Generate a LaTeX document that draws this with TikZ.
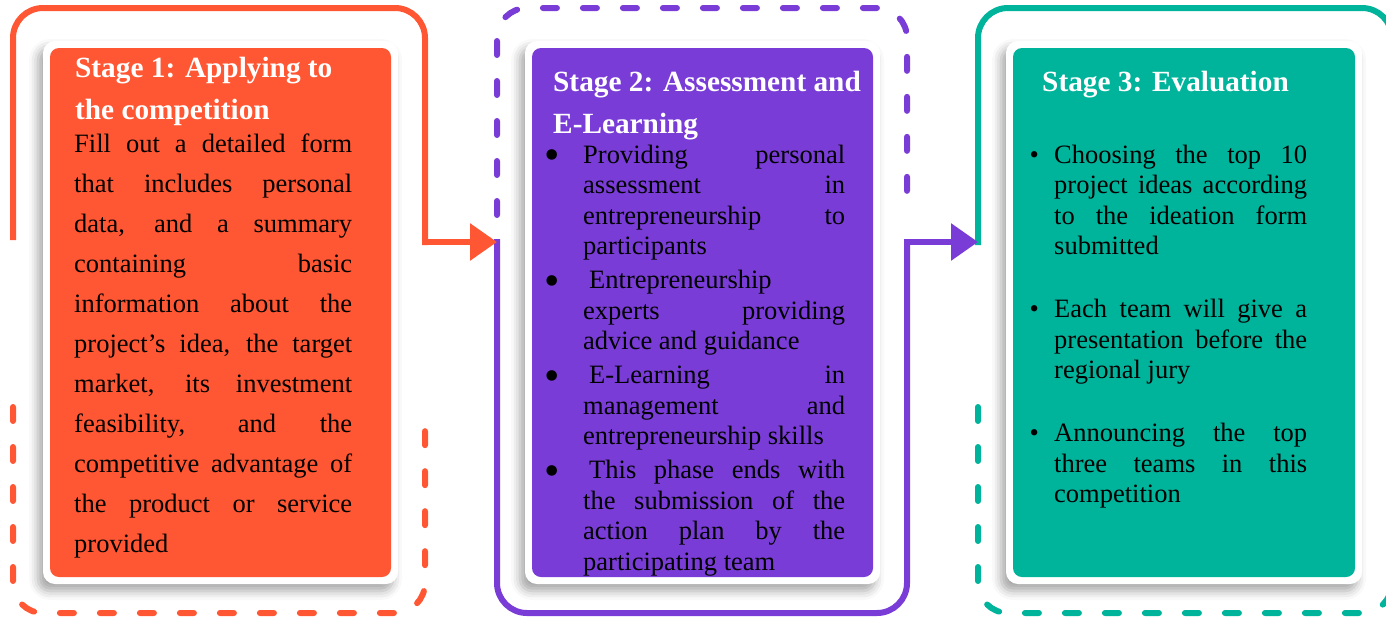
\documentclass[tikz,border=0pt]{standalone}
\usepackage{fontspec}
\setmainfont{Liberation Serif}
\usetikzlibrary{arrows.meta, shadows.blur}

\definecolor{stageorange}{HTML}{FF5733}
\definecolor{stagepurple}{HTML}{7A3CD7}
\definecolor{stageteal}{HTML}{00B39B}

\tolerance=10000
\hyphenpenalty=10000
\newcommand{\roundbullet}{\noindent\llap{\makebox[38.7pt][l]{\smash{\raisebox{-6.5pt}{\fontsize{44}{44}\selectfont\textbullet}}}}}
\newcommand{\smallbullet}{\noindent\llap{\makebox[24.5pt][l]{\textbullet}}}

\begin{document}
\begin{tikzpicture}[
  x=1pt, y=-1pt,
  frame/.style={line width=6pt},
  framedash/.style={line width=6pt, dash pattern=on 14pt off 26pt, line cap=round},
  card/.style={fill=white, rounded corners=12pt, inner sep=0pt, outer sep=0pt, minimum width=355pt, minimum height=543pt,
    blur shadow={shadow xshift=-5pt, shadow yshift=-7pt, shadow blur radius=9pt, shadow opacity=35}},
  panel/.style={rounded corners=9pt, inner sep=0pt, outer sep=0pt, minimum width=341pt, minimum height=529pt},
  title/.style={anchor=north west, inner sep=0pt, align=left, text=white, font=\fontsize{29.3}{42}\selectfont\bfseries},
  body/.style={anchor=north west, inner sep=0pt, align=justify, font=\fontsize{26.5}{30.5}\selectfont},
  flow/.style={line width=6pt, -{Triangle[length=27pt, width=36pt]}}
]
\useasboundingbox (0,0) rectangle (1386,619);

\coordinate (s1e) at (425,242);
\coordinate (s2w) at (497,242);
\coordinate (s2e) at (907,242);
\coordinate (s3w) at (978,242);

\draw[frame, stageorange, rounded corners=30pt] (13,240) -- (13,8) -- (425,8) -- (425,245);
\draw[framedash, stageorange, rounded corners=30pt] (13,407) -- (13,613) -- (425,613) -- (425,407);
\draw[framedash, stagepurple, rounded corners=30pt] (497,215) -- (497,8) -- (907,8) -- (907,215);
\draw[frame, stagepurple, rounded corners=30pt] (497,239) -- (497,613) -- (907,613) -- (907,239);
\draw[frame, stageteal, rounded corners=30pt] (978,245) -- (978,8) -- (1392,8) -- (1392,240);
\draw[framedash, stageteal, rounded corners=30pt] (978,407) -- (978,613) -- (1392,613) -- (1392,407);

\draw[flow, stageorange] ([xshift=-3pt]s1e) -- (s2w);
\draw[flow, stagepurple] ([xshift=-3pt]s2e) -- (s3w);

\node[card] (s1card) at (220.5,312.5) {};
\node[panel, fill=stageorange] (s1panel) at (220.5,312.5) {};
\node[card] (s2card) at (702.5,312.5) {};
\node[panel, fill=stagepurple] (s2panel) at (702.5,312.5) {};
\node[card, minimum width=356pt] (s3card) at (1184,312.5) {};
\node[panel, fill=stageteal, minimum width=342pt] (s3panel) at (1184,312.5) {};

\node[title] (s1title) at (75,47.6) {\strut Stage 1: Applying to\\the competition};
\node[body, text width=278pt, font=\fontsize{26.5}{40}\selectfont] (s1body) at (74,124) {\strut
  Fill out a detailed form\linebreak that includes personal\linebreak data, and a summary\linebreak
  containing basic\linebreak information about the\linebreak project’s idea, the target\linebreak
  market, its investment\linebreak feasibility, and the\linebreak competitive advantage of\linebreak
  the product or service\linebreak provided};

\node[title] (s2title) at (553,61.9) {\strut Stage 2: Assessment and\\E-Learning};
\node[body, text width=262pt] (s2body) at (583,141.65) {\parskip=3.5pt
  \roundbullet\strut Providing personal\linebreak assessment in\linebreak entrepreneurship to\linebreak participants\par
  \roundbullet\kern6pt Entrepreneurship\newline experts providing\linebreak advice and guidance\par
  \roundbullet\kern6pt E-Learning in\linebreak management and\linebreak entrepreneurship skills\par
  \roundbullet\kern6pt This phase ends with\linebreak the submission of the\linebreak action plan by the\linebreak participating team};

\node[title] (s3title) at (1042,61.9) {\strut Stage 3: Evaluation};
\node[body, text width=253pt] (s3body) at (1054,141.65) {\parskip=32.5pt
  \smallbullet\strut Choosing the top 10\linebreak project ideas according\linebreak to the ideation form\linebreak submitted\par
  \smallbullet Each team will give a\linebreak presentation before the\linebreak regional jury\par
  \smallbullet Announcing the top\linebreak three teams in this\linebreak competition};
\end{tikzpicture}
\end{document}
